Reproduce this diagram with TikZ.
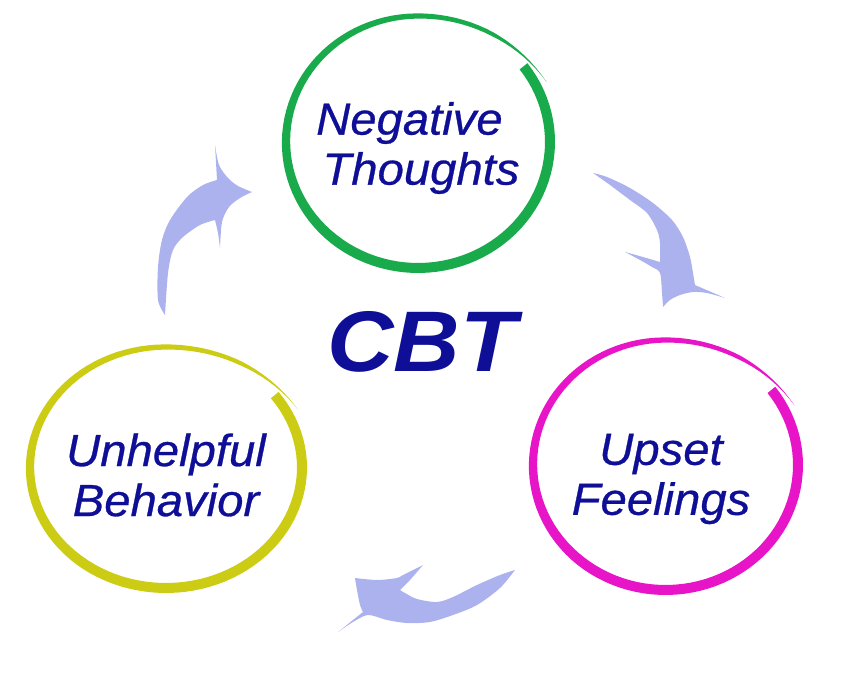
\documentclass[tikz,border=0pt]{standalone}
\usepackage{fontspec}
\setmainfont{Liberation Sans}
\usepackage{tikz}
\usepackage{xcolor}
\definecolor{textblue}{RGB}{14,14,150}
\definecolor{arrowblue}{RGB}{172,178,238}
\definecolor{ringgreen}{RGB}{25,170,75}
\definecolor{ringpink}{RGB}{232,20,200}
\definecolor{ringyellow}{RGB}{204,204,20}
\tikzset{
    flow/.style = {fill=arrowblue, draw=none},
    ring-text/.style = {text=textblue, font=\fontsize{45}{50}\selectfont\itshape\addfontfeature{FakeBold=0.6}, align=center, inner sep=0pt, xscale=1.05},
    cbt-text/.style = {text=textblue, font=\fontsize{86}{90}\selectfont\bfseries\itshape, inner sep=0pt, xscale=1.07},
    declare function = {
        rang(\s) = -37+371*\s;
        rgrow(\s) = 11*(max(0,\s-0.82)/0.18)^2;
        rwid(\s) = (10-7*max(0,\s-0.45)/0.55)*min(1,(1-\s)*12);
    },
}
% brush ring: centre x, centre y, radius x, radius y, colour
\newcommand{\brushring}[5]{%
    \fill[#5] plot[domain=0:1, samples=110, variable=\s]
        ({#1+(#3+rgrow(\s)+rwid(\s)/2)*cos(rang(\s))}, {#2+(#4+rgrow(\s)+rwid(\s)/2)*sin(rang(\s))})
        -- plot[domain=0:1, samples=110, variable=\t]
        ({#1+(#3+rgrow(1-\t)-rwid(1-\t)/2)*cos(rang(1-\t))}, {#2+(#4+rgrow(1-\t)-rwid(1-\t)/2)*sin(rang(1-\t))})
        -- cycle;}

\begin{document}
\begin{tikzpicture}[x=1pt, y=-1pt]
\useasboundingbox (0,0) rectangle (846,687);

% the three rings
\brushring{418}{142}{132}{126}{ringgreen}
\brushring{665.5}{465}{132.5}{125}{ringpink}
\brushring{166}{467.5}{136}{120.5}{ringyellow}

\node[ring-text] (thoughts) at (421,148) {Negative\hspace*{22pt}\\Thoughts};
\node[ring-text] (feelings) at (661,479) {Upset\\Feelings};
\node[ring-text] (behavior) at (166,475) {Unhelpful\\Behavior};
\node[cbt-text] (cbt) at (422,342) {CBT};

% behavior -> thoughts
\fill[flow] plot[smooth] coordinates {(165,315) (158,300) (158,267) (162,240) (170,220) (187,197) (203,185) (217,180)}
    -- plot[smooth] coordinates {(215,145) (219,165) (228,178) (238,186) (252,192)}
    -- plot[smooth] coordinates {(252,192) (240,198) (229,207) (222,222) (220,248)}
    -- plot[smooth] coordinates {(220,248) (218,233) (215,220)}
    -- plot[smooth] coordinates {(215,220) (200,225) (183,237) (173,250) (168,273) (165,315)}
    -- cycle;

% thoughts -> feelings
\fill[flow] plot[smooth] coordinates {(593,173) (607,177) (630,188) (653,203) (672,220) (683,237) (690,257) (693,273) (695,285)}
    -- plot[smooth] coordinates {(725,298) (707,293) (693,292) (680,295) (670,300) (663,307)}
    -- plot[smooth] coordinates {(663,307) (662,293) (660,273) (652,267) (640,260) (625,252)}
    -- plot[smooth] coordinates {(625,252) (643,257) (660,262)}
    -- plot[smooth] coordinates {(660,262) (660,243) (657,230) (647,213) (630,200) (610,185) (593,173)}
    -- cycle;

% feelings -> behavior
\fill[flow] plot[smooth] coordinates {(515,570) (500,575) (477,585) (453,597) (437,602) (417,599) (405,593) (400,590)}
    -- plot[smooth] coordinates {(400,590) (410,580) (423,565)}
    -- plot[smooth] coordinates {(423,565) (403,575) (397,578) (377,580) (355,578)}
    -- plot[smooth] coordinates {(355,578) (357,590) (360,605) (363,612)}
    -- (338,632)
    -- plot[smooth] coordinates {(338,632) (353,622) (368,615) (387,620) (407,623) (430,622) (453,615) (477,605) (500,588) (515,570)}
    -- cycle;
\end{tikzpicture}
\end{document}
